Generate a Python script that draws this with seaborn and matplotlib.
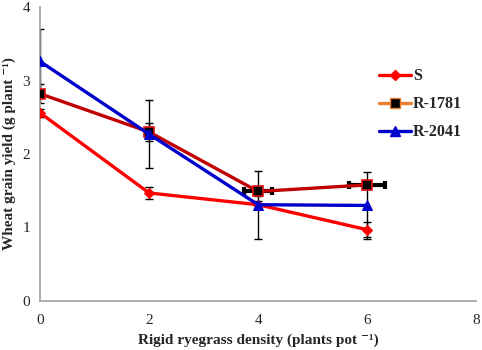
import matplotlib
matplotlib.use("Agg")
import matplotlib.pyplot as plt
import seaborn as sns
import pandas as pd
import numpy as np
from matplotlib.lines import Line2D

density = [0, 2, 4, 6]
s_yield = [2.56, 1.47, 1.31, 0.97]
s_err = [0.05, 0.08, 0.05, 0.10]
r1781_yield = [2.82, 2.30, 1.49, 1.58]
r1781_err = [0.13, 0.12, 0.06, 0.05]
r1781_xerr = [0.0, 0.0, 0.25, 0.33]
r2041_yield = [3.26, 2.27, 1.31, 1.30]
r2041_err = [0.44, 0.46, 0.46, 0.45]
series = ["S", "R-1781", "R-2041"]

sns.set_style("white")
plt.rcParams['font.family'] = ['Liberation Serif', 'DejaVu Serif']

df = pd.DataFrame({
    "density": density * 3,
    "yield": s_yield + r1781_yield + r2041_yield,
    "series": [series[0]] * 4 + [series[1]] * 4 + [series[2]] * 4,
})

fig = plt.figure(figsize=(4.82, 3.5), dpi=100)
ax = fig.add_axes([0.083, 0.14, 0.905, 0.84])

# error bars first (black)
ax.errorbar(density, s_yield, yerr=s_err, fmt="none", ecolor="black",
            elinewidth=1, capsize=3, zorder=2)
ax.errorbar(density, r2041_yield, yerr=r2041_err, fmt="none", ecolor="black",
            elinewidth=1, capsize=3, zorder=2)
ax.errorbar(density, r1781_yield, yerr=r1781_err, fmt="none", ecolor="black",
            elinewidth=1, capsize=3, zorder=2)
ax.errorbar(density, r1781_yield, xerr=r1781_xerr, fmt="none", ecolor="black",
            elinewidth=3, capsize=3, capthick=3, zorder=4)

sub = df[df.series == "S"]
sns.lineplot(data=sub, x="density", y="yield", color="#FF0000", lw=2.4,
             marker="D", markersize=5, markeredgecolor="#FF0000", ax=ax,
             zorder=3, legend=False)
sub = df[df.series == "R-1781"]
sns.lineplot(data=sub, x="density", y="yield", color="#C00000", lw=2.4,
             marker="s", markersize=7, markerfacecolor="black",
             markeredgecolor="#E01010", markeredgewidth=1.2, ax=ax,
             zorder=5, legend=False)
sub = df[df.series == "R-2041"]
sns.lineplot(data=sub, x="density", y="yield", color="#0000CC", lw=2.4,
             marker="^", markersize=7, markeredgecolor="#0000CC", ax=ax,
             zorder=6, legend=False)

ax.set_xlim(0, 8)
ax.set_ylim(0, 4)
ax.set_xticks([0, 2, 4, 6, 8])
ax.set_yticks([0, 1, 2, 3, 4])
ax.tick_params(axis="both", length=0, labelsize=11)
ax.tick_params(axis="x", pad=9)
ax.tick_params(axis="y", pad=7)
for sp in ["top", "right"]:
    ax.spines[sp].set_visible(False)
for sp in ["left", "bottom"]:
    ax.spines[sp].set_color("#A0A0A0")
    ax.spines[sp].set_linewidth(1.2)

ax.set_xlabel("Rigid ryegrass density (plants pot \u207b\u00b9)", fontsize=11,
              fontweight="bold", labelpad=5)
ax.set_ylabel("Wheat grain yield (g plant \u207b\u00b9)", fontsize=11,
              fontweight="bold", labelpad=5)

handles = [
    Line2D([], [], color="#FF0000", lw=2.4, marker="D", markersize=5),
    Line2D([], [], color="#ED7D31", lw=2.4, marker="s", markersize=7,
           markerfacecolor="black", markeredgecolor="#ED7D31"),
    Line2D([], [], color="#0000CC", lw=2.4, marker="^", markersize=7),
]
ax.legend(handles, series, loc="upper left", bbox_to_anchor=(0.745, 0.84),
          frameon=False, prop={"weight": "bold", "size": 11.5},
          handlelength=2.0, handletextpad=0.1, labelspacing=0.75)

fig.savefig("out.png", dpi=100)
